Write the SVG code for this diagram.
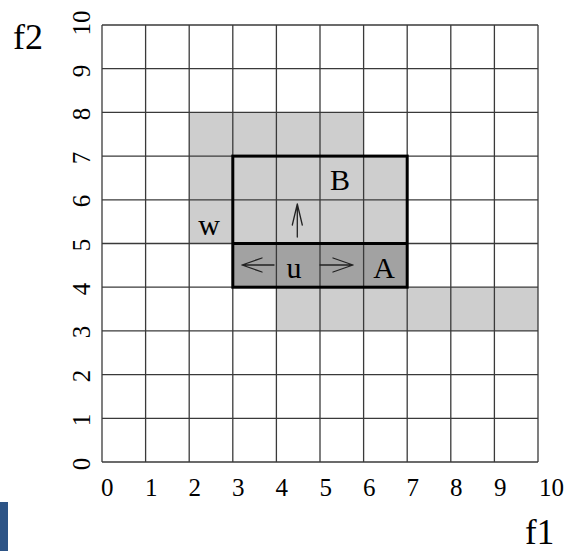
<svg xmlns="http://www.w3.org/2000/svg" width="564" height="551" viewBox="0 0 564 551">
<style>
  .txt { font-family: "Liberation Serif", "Times New Roman", serif; fill: #000; }
  .num { font-size: 25px; }
  .lab { font-size: 30px; }
  .axis { font-size: 36px; }
  .grid line { stroke: #3a3a3a; stroke-width: 1.3; }
  .light { fill: #cecece; }
  .dark { fill: #a2a2a2; }
  .bold { fill: none; stroke: #000; stroke-width: 3; }
  .arr { fill: none; stroke: #222; stroke-width: 1.3; stroke-linecap: round; stroke-linejoin: round; }
</style>
<rect x="0" y="0" width="564" height="551" fill="#fff"/>
<rect x="0" y="502" width="8" height="49" fill="#2d5486"/>

<g id="region-w">
  <rect class="light" x="189.2" y="112.4" width="174.4" height="43.7"/>
  <rect class="light" x="189.2" y="156.1" width="43.6" height="87.4"/>
</g>
<g id="region-strip">
  <rect class="light" x="276.4" y="287.2" width="261.6" height="43.7"/>
</g>
<g id="region-B">
  <rect class="light" x="232.8" y="156.1" width="174.4" height="87.4"/>
</g>
<g id="region-A">
  <rect class="dark" x="232.8" y="243.5" width="174.4" height="43.7"/>
</g>

<g id="grid" class="grid">
  <line x1="102" y1="25" x2="102" y2="462"/>
  <line x1="145.6" y1="25" x2="145.6" y2="462"/>
  <line x1="189.2" y1="25" x2="189.2" y2="462"/>
  <line x1="232.8" y1="25" x2="232.8" y2="462"/>
  <line x1="276.4" y1="25" x2="276.4" y2="462"/>
  <line x1="320" y1="25" x2="320" y2="462"/>
  <line x1="363.6" y1="25" x2="363.6" y2="462"/>
  <line x1="407.2" y1="25" x2="407.2" y2="462"/>
  <line x1="450.8" y1="25" x2="450.8" y2="462"/>
  <line x1="494.4" y1="25" x2="494.4" y2="462"/>
  <line x1="538" y1="25" x2="538" y2="462"/>
  <line x1="102" y1="462" x2="538" y2="462"/>
  <line x1="102" y1="418.3" x2="538" y2="418.3"/>
  <line x1="102" y1="374.6" x2="538" y2="374.6"/>
  <line x1="102" y1="330.9" x2="538" y2="330.9"/>
  <line x1="102" y1="287.2" x2="538" y2="287.2"/>
  <line x1="102" y1="243.5" x2="538" y2="243.5"/>
  <line x1="102" y1="199.8" x2="538" y2="199.8"/>
  <line x1="102" y1="156.1" x2="538" y2="156.1"/>
  <line x1="102" y1="112.4" x2="538" y2="112.4"/>
  <line x1="102" y1="68.7" x2="538" y2="68.7"/>
  <line x1="102" y1="25" x2="538" y2="25"/>
</g>

<g id="box-B">
  <rect class="bold" x="232.8" y="156.1" width="174.4" height="131.1"/>
  <text class="txt lab" x="340" y="190" text-anchor="middle">B</text>
</g>
<g id="box-A">
  <line class="bold" x1="232.8" y1="243.5" x2="407.2" y2="243.5"/>
  <text class="txt lab" x="384" y="278" text-anchor="middle">A</text>
</g>
<g id="label-u">
  <text class="txt lab" x="294" y="278" text-anchor="middle">u</text>
</g>
<g id="label-w">
  <text class="txt lab" x="209" y="235" text-anchor="middle">w</text>
</g>

<g id="connectors">
  <path class="arr" d="M274,265 L242,265 M262,258 L242,265 L262,272"/>
  <path class="arr" d="M320,265 L353,265 M333,258 L353,265 L333,272"/>
  <path class="arr" d="M297.3,237 L297.3,204 M292.3,225 L297.3,204 L302.3,225"/>
</g>

<g id="x-axis" class="txt num">
  <text x="101" y="496">0</text>
  <text x="145" y="496">1</text>
  <text x="188.5" y="496">2</text>
  <text x="232" y="496">3</text>
  <text x="275.5" y="496">4</text>
  <text x="319.5" y="496">5</text>
  <text x="363" y="496">6</text>
  <text x="406.5" y="496">7</text>
  <text x="450" y="496">8</text>
  <text x="494" y="496">9</text>
  <text x="539" y="496">10</text>
</g>
<g id="y-axis" class="txt num" text-anchor="middle">
  <text transform="translate(90,464) rotate(-90)">0</text>
  <text transform="translate(90,420) rotate(-90)">1</text>
  <text transform="translate(90,376) rotate(-90)">2</text>
  <text transform="translate(90,332) rotate(-90)">3</text>
  <text transform="translate(90,289) rotate(-90)">4</text>
  <text transform="translate(90,245) rotate(-90)">5</text>
  <text transform="translate(90,201) rotate(-90)">6</text>
  <text transform="translate(90,158) rotate(-90)">7</text>
  <text transform="translate(90,114) rotate(-90)">8</text>
  <text transform="translate(90,71) rotate(-90)">9</text>
  <text transform="translate(90,23) rotate(-90)">10</text>
</g>

<g id="axis-titles" class="txt axis">
  <text x="13" y="49">f2</text>
  <text x="525" y="544" font-size="35">f1</text>
</g>
</svg>
